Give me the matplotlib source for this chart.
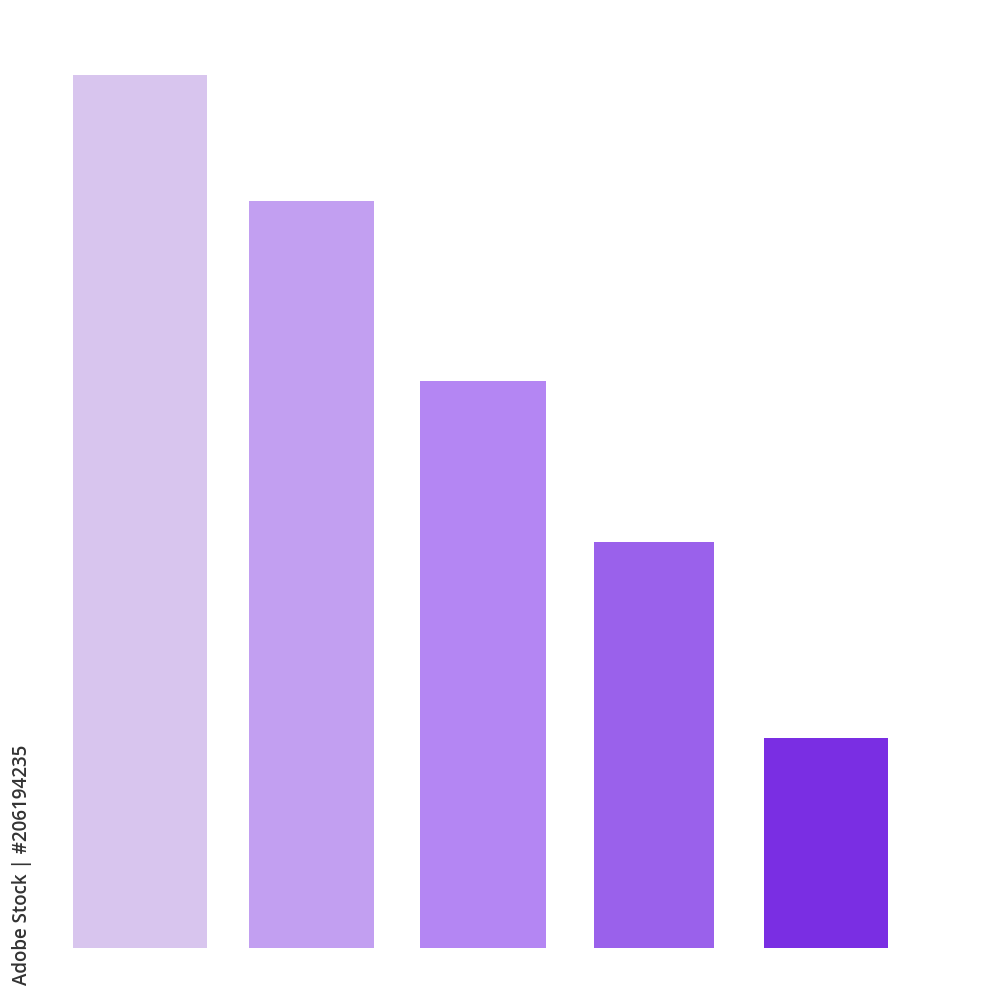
import matplotlib
matplotlib.use("Agg")
import matplotlib.pyplot as plt

categories = ["A", "B", "C", "D", "E"]
values = [100.0, 85.6, 65.0, 46.5, 24.1]
colors = ["#D8C5EE", "#C29FF1", "#B486F3", "#9A61EB", "#7A2EE3"]
watermark = "Adobe Stock | #206194235"

bar_widths = [0.78, 0.725, 0.73, 0.70, 0.725]

fig = plt.figure(figsize=(10, 10), dpi=100)
ax = fig.add_axes([0, 0, 1, 1])
x = list(range(len(categories)))
ax.bar(x, values, width=bar_widths, color=colors, linewidth=0)
ax.set_xlim(-0.816, 5.015)
ax.set_ylim(-5.96, 108.6)
ax.axis("off")

fig.text(0.022, 0.015, watermark, rotation=90, ha="center", va="bottom",
         fontsize=13.5, color="#333333", family=["Open Sans", "DejaVu Sans"],
         fontweight="semibold")

fig.savefig("out.png", dpi=100, facecolor="white")
